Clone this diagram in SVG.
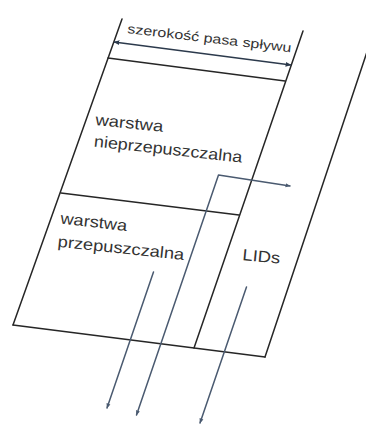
<svg xmlns="http://www.w3.org/2000/svg" width="366" height="426" viewBox="0 0 366 426">
<style>
.frame{fill:none;stroke:#262626;stroke-width:1.5;stroke-linecap:round}
.flow{fill:none;stroke:#4a5a70;stroke-width:1.5;stroke-linecap:round;stroke-linejoin:round}
.dim{fill:none;stroke:#2c3a4c;stroke-width:1.5}
text{font-family:"Liberation Sans",Arial,sans-serif;fill:#333;}
.lbl{font-size:16px}
.small{font-size:13px}
</style>
<defs>
<marker id="ah" viewBox="0 0 10 10" refX="9" refY="5" markerWidth="5" markerHeight="5" orient="auto-start-reverse" markerUnits="userSpaceOnUse">
<path d="M0,1 L10,5 L0,9 z" fill="#4a5a70"/>
</marker>
<marker id="dh" viewBox="0 0 10 10" refX="9" refY="5" markerWidth="6" markerHeight="6" orient="auto-start-reverse" markerUnits="userSpaceOnUse">
<path d="M0,1 L10,5 L0,9 z" fill="#2c3a4c"/>
</marker>
</defs>
<g id="frame">
<line class="frame" x1="122" y1="19" x2="13" y2="325"/>
<line class="frame" x1="303" y1="31" x2="194" y2="348"/>
<line class="frame" x1="369" y1="46" x2="265" y2="357"/>
<line class="frame" x1="108" y1="58" x2="285" y2="81"/>
<line class="frame" x1="61" y1="193" x2="239" y2="215"/>
<line class="frame" x1="13" y1="325" x2="265" y2="357"/>
</g>
<g id="width-dimension">
<line class="dim" x1="114" y1="42" x2="291" y2="65" marker-start="url(#dh)" marker-end="url(#dh)"/>
<text class="small" transform="translate(127,33) rotate(6.7)" textLength="165" lengthAdjust="spacingAndGlyphs">szerokość pasa spływu</text>
</g>
<g id="impervious">
<text class="lbl" transform="translate(95,125) rotate(5.8)" textLength="68" lengthAdjust="spacingAndGlyphs">warstwa</text>
<text class="lbl" transform="translate(93.5,146.5) rotate(6.2)" textLength="149" lengthAdjust="spacingAndGlyphs">nieprzepuszczalna</text>
</g>
<g id="pervious">
<text class="lbl" transform="translate(60,223.5) rotate(6.5)" textLength="67" lengthAdjust="spacingAndGlyphs">warstwa</text>
<text class="lbl" transform="translate(57.3,246.7) rotate(6)" textLength="127" lengthAdjust="spacingAndGlyphs">przepuszczalna</text>
</g>
<g id="lids">
<text class="lbl" transform="translate(242,260) rotate(5.5)" textLength="38" lengthAdjust="spacingAndGlyphs">LIDs</text>
</g>
<g id="connectors">
<polyline class="flow" points="136.5,415 218.5,175 290,186" marker-end="url(#ah)" marker-start="url(#ah)"/>
<line class="flow" x1="153.5" y1="272" x2="107" y2="408" marker-end="url(#ah)"/>
<line class="flow" x1="246.5" y1="287" x2="200" y2="423" marker-end="url(#ah)"/>
</g>
</svg>
